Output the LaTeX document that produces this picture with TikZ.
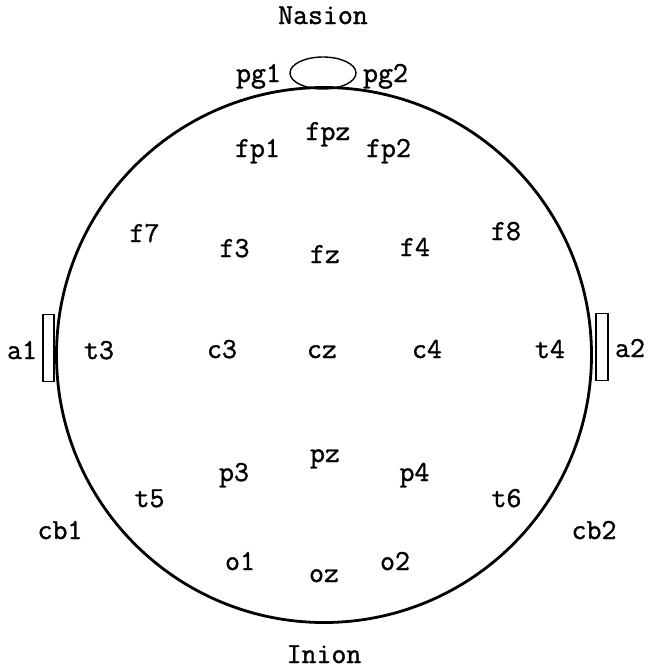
\documentclass[tikz,border=0pt]{standalone}
\usepackage{fontspec}
\newfontfamily\labfont{Latin Modern Mono}[FakeBold=1.3]
\usetikzlibrary{shapes.geometric}
\begin{document}
\begin{tikzpicture}[x=1pt,y=-1pt,
  lab/.style={font=\labfont\fontsize{29}{32}\selectfont, inner sep=0pt, anchor=base},
  head/.style={draw, line width=2.8pt},
  thin/.style={draw, line width=1.4pt}]
\useasboundingbox (0,0) rectangle (649,670);
\node[thin, rectangle, minimum width=11pt, minimum height=67pt, inner sep=0pt] (ear1) at (48.5,348) {};
\node[thin, rectangle, minimum width=12pt, minimum height=67pt, inner sep=0pt] (ear2) at (602,347) {};
\node[thin, ellipse, minimum width=66pt, minimum height=32pt, inner sep=0pt] (nose) at (323,73) {};
\node[head, circle, minimum size=535pt, inner sep=0pt] (headc) at (324,355) {};
\node[lab] (nasion) at (323,24) {Nasion};
\node[lab] (pg1) at (258.5,82) {pg1};
\node[lab] (pg2) at (385.5,82) {pg2};
\node[lab] (fpz) at (328,140) {fpz};
\node[lab] (fp1) at (257.5,157) {fp1};
\node[lab] (fp2) at (388.5,157) {fp2};
\node[lab] (f7) at (144.5,242) {f7};
\node[lab] (f3) at (234.5,257) {f3};
\node[lab] (fz) at (325,263) {fz};
\node[lab] (f4) at (415,256) {f4};
\node[lab] (f8) at (506,240) {f8};
\node[lab] (a1) at (22,359) {a1};
\node[lab] (t3) at (99,359) {t3};
\node[lab] (c3) at (222,358) {c3};
\node[lab] (cz) at (322,358) {cz};
\node[lab] (c4) at (427,358) {c4};
\node[lab] (t4) at (550,358) {t4};
\node[lab] (a2) at (630,357) {a2};
\node[lab] (pz) at (325,462) {pz};
\node[lab] (p3) at (234,481) {p3};
\node[lab] (p4) at (414.5,481) {p4};
\node[lab] (t5) at (149.5,507) {t5};
\node[lab] (t6) at (506.5,507) {t6};
\node[lab] (cb1) at (60,539) {cb1};
\node[lab] (cb2) at (594,539) {cb2};
\node[lab] (o1) at (240,570) {o1};
\node[lab] (oz) at (324,582) {oz};
\node[lab] (o2) at (395,570) {o2};
\node[lab] (inion) at (324,663) {Inion};
\end{tikzpicture}
\end{document}
